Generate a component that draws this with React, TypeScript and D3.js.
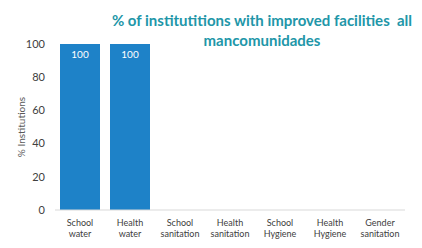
import * as d3 from 'd3';
import React from 'react';

const categories = [
  ['School', 'water'],
  ['Health', 'water'],
  ['School', 'sanitation'],
  ['Health', 'sanitation'],
  ['School', 'Hygiene'],
  ['Health', 'Hygiene'],
  ['Gender', 'sanitation'],
];
const values = [100, 100, 0, 0, 0, 0, 0];
const yTicks = [0, 20, 40, 60, 80, 100];
const titleLines = ['% of institutitions with improved facilities  all', 'mancomunidades'];

export default function App() {
  const width = 422;
  const height = 248;
  const margin = { top: 44, right: 17, bottom: 38, left: 55 };
  const innerW = width - margin.left - margin.right;
  const innerH = height - margin.top - margin.bottom;

  const x = d3.scaleBand()
    .domain(categories.map((_, i) => String(i)))
    .range([0, innerW])
    .paddingInner(0.2)
    .paddingOuter(0.1);
  const y = d3.scaleLinear().domain([0, 100]).range([innerH, 0]);

  const font = 'Lato, "Open Sans", sans-serif';

  return (
    <svg width={width} height={height} style={{ position: 'absolute', left: 0, top: 0, background: '#fff' }}>
      <g fontFamily={font}>
        {titleLines.map((t, i) => (
          <text key={i} x={262} y={26 + i * 20} textAnchor="middle" fontSize={15} fontWeight="bold" fill="#2196a8" style={{ whiteSpace: 'pre' }}>{t}</text>
        ))}
        <text transform={`translate(25,${margin.top + innerH / 2}) rotate(-90)`} textAnchor="middle" fontSize={10} fill="#595959">% Institutions</text>
      </g>
      <g transform={`translate(${margin.left},${margin.top})`} fontFamily={font}>
        {yTicks.map(t => (
          <text key={t} x={-10} y={y(t)} dy="0.35em" textAnchor="end" fontSize={11} fill="#404040">{t}</text>
        ))}
        {values.map((v, i) => v > 0 && (
          <g key={i}>
            <rect x={x(String(i))} y={y(v)} width={x.bandwidth()} height={innerH - y(v)} fill="#1e82c8" />
            <text x={(x(String(i)) as number) + x.bandwidth() / 2} y={y(v) + 14} textAnchor="middle" fontSize={10} fill="#ffffff">{v}</text>
          </g>
        ))}
        <line x1={0} x2={innerW} y1={innerH} y2={innerH} stroke="#d9d9d9" strokeWidth={1} />
        {categories.map((c, i) => (
          <text key={i} x={(x(String(i)) as number) + x.bandwidth() / 2} y={innerH + 16} textAnchor="middle" fontSize={9} fill="#404040">
            {c.map((l, j) => (
              <tspan key={j} x={(x(String(i)) as number) + x.bandwidth() / 2} dy={j === 0 ? 0 : 11}>{l}</tspan>
            ))}
          </text>
        ))}
      </g>
    </svg>
  );
}
